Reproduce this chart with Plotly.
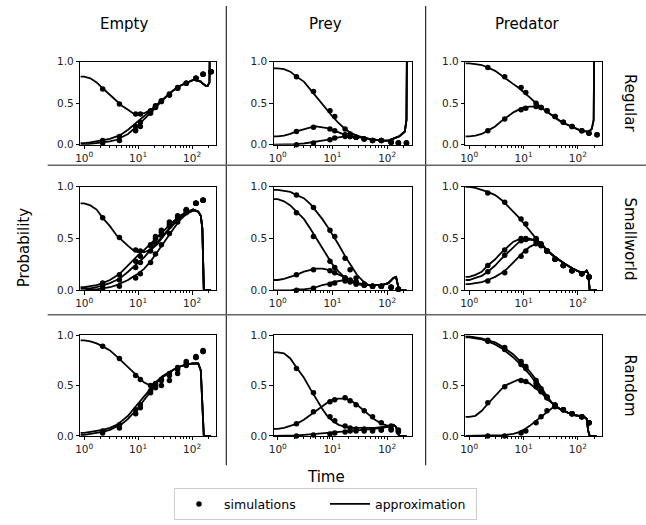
import plotly.graph_objects as go

W, H = 646, 525

# ---------------- data ----------------
COLUMNS = ["Empty", "Prey", "Predator"]
ROWS = ["Regular", "Smallworld", "Random"]
X_TICKS = [1, 10, 100]
X_TICK_TEXT = ["10<sup>0</sup>", "10<sup>1</sup>", "10<sup>2</sup>"]
Y_TICKS = [0, 0.5, 1.0]
Y_TICK_TEXT = ["0.0", "0.5", "1.0"]

T_LINE = [0.85, 1, 1.3, 1.7, 2.2, 3, 4, 5, 6.5, 8, 10, 13, 17, 22, 28, 36, 46, 60,
          80, 105, 130, 145, 155, 165, 180, 195, 210, 225, 250]
T_SIM = [2.2, 4.5, 9, 11, 17, 21, 27, 38, 54, 78, 118, 160, 225]

# Regular
REG_EMPTY_LINES = [
    [0.82, 0.82, 0.80, 0.75, 0.68, 0.60, 0.52, 0.47, 0.42, 0.38, 0.37, 0.38, 0.42, 0.47, 0.54,
     0.60, 0.66, 0.71, 0.75, 0.78, 0.77, 0.76, 0.74, 0.73, 0.71, 0.71, 0.75, 3, None],
    [0.02, 0.02, 0.03, 0.04, 0.05, 0.07, 0.10, 0.13, 0.18, 0.23, 0.28, 0.34, 0.41, 0.48, 0.54,
     0.60, 0.66, 0.71, 0.75, 0.78, 0.77, 0.76, 0.74, 0.73, 0.71, 0.71, 0.75, 3, None],
    [0.00, 0.00, 0.01, 0.02, 0.03, 0.04, 0.06, 0.09, 0.13, 0.18, 0.23, 0.31, 0.39, 0.46, 0.53,
     0.60, 0.66, 0.71, 0.75, 0.78, 0.77, 0.76, 0.74, 0.73, 0.71, 0.71, 0.75, 3, None],
]
REG_EMPTY_SIMS = [
    [0.67, 0.49, 0.37, 0.37, 0.41, 0.47, 0.53, 0.61, 0.69, 0.74, 0.80, 0.85, 0.88],
    [0.05, 0.10, 0.22, 0.27, 0.40, 0.46, 0.52, 0.60, 0.68, 0.74, 0.80, 0.85, 0.88],
    [0.02, 0.05, 0.17, 0.22, 0.38, 0.45, 0.52, 0.60, 0.68, 0.74, 0.80, 0.85, 0.88],
]
REG_PREY_LINES = [
    [0.92, 0.92, 0.91, 0.88, 0.82, 0.76, 0.66, 0.58, 0.49, 0.42, 0.34, 0.26, 0.19, 0.14, 0.11,
     0.09, 0.07, 0.06, 0.05, 0.05, 0.07, 0.08, 0.09, 0.10, 0.12, 0.14, 0.16, 0.30, 5],
    [0.10, 0.10, 0.11, 0.13, 0.16, 0.19, 0.21, 0.22, 0.21, 0.20, 0.18, 0.15, 0.12, 0.10, 0.09,
     0.09, 0.07, 0.06, 0.05, 0.05, 0.07, 0.08, 0.09, 0.10, 0.12, 0.14, 0.16, 0.30, 5],
    [0.0, 0.0, 0.0, 0.003, 0.007, 0.015, 0.025, 0.035, 0.05, 0.06, 0.075, 0.09, 0.10, 0.10, 0.09,
     0.09, 0.07, 0.06, 0.05, 0.05, 0.07, 0.08, 0.09, 0.10, 0.12, 0.14, 0.16, 0.30, 5],
]
REG_PREY_SIMS = [
    [0.82, 0.64, 0.41, 0.34, 0.19, 0.13, 0.09, 0.07, 0.05, 0.05, 0.03, 0.02, 0.02],
    [0.16, 0.21, 0.19, 0.17, 0.12, 0.10, 0.09, 0.07, 0.05, 0.05, 0.03, 0.02, 0.02],
    [0.00, 0.02, 0.06, 0.08, 0.10, 0.10, 0.09, 0.07, 0.05, 0.05, 0.03, 0.02, 0.02],
]
REG_PRED_LINES = [
    [0.98, 0.98, 0.97, 0.96, 0.93, 0.89, 0.83, 0.78, 0.73, 0.69, 0.64, 0.57, 0.50, 0.44,
     0.39, 0.34, 0.29, 0.25, 0.21, 0.18, 0.16, 0.16, 0.16, 0.17, 0.19, 0.30, 3, None, None],
    [0.10, 0.10, 0.11, 0.13, 0.17, 0.22, 0.29, 0.34, 0.39, 0.42, 0.45, 0.46, 0.46, 0.44,
     0.39, 0.34, 0.29, 0.25, 0.21, 0.18, 0.16, 0.16, 0.16, 0.17, 0.19, 0.30, 3, None, None],
]
REG_PRED_SIMS = [
    [0.93, 0.82, 0.69, 0.63, 0.50, 0.45, 0.41, 0.34, 0.27, 0.22, 0.17, 0.14, 0.12],
    [0.17, 0.31, 0.42, 0.44, 0.46, 0.45, 0.41, 0.34, 0.27, 0.22, 0.17, 0.14, 0.12],
]

# Smallworld
SW_EMPTY_LINES = [
    [0.84, 0.84, 0.82, 0.78, 0.70, 0.62, 0.53, 0.48, 0.43, 0.39, 0.37, 0.37, 0.39, 0.44, 0.51,
     0.58, 0.64, 0.70, 0.75, 0.78, 0.76, 0.72, 0.60, 0.0, 0.0, 0.0, 0.0, 0.0, None],
    [0.03, 0.03, 0.04, 0.05, 0.07, 0.10, 0.14, 0.18, 0.24, 0.29, 0.34, 0.39, 0.45, 0.51, 0.56,
     0.62, 0.67, 0.72, 0.76, 0.78, 0.76, 0.72, 0.60, 0.0, 0.0, 0.0, 0.0, 0.0, None],
    [0.02, 0.02, 0.02, 0.03, 0.05, 0.07, 0.10, 0.13, 0.18, 0.22, 0.27, 0.32, 0.39, 0.46, 0.52,
     0.59, 0.65, 0.71, 0.75, 0.78, 0.76, 0.72, 0.60, 0.0, 0.0, 0.0, 0.0, 0.0, None],
    [0.00, 0.00, 0.01, 0.01, 0.02, 0.03, 0.05, 0.07, 0.10, 0.13, 0.16, 0.21, 0.28, 0.36, 0.44,
     0.53, 0.60, 0.68, 0.74, 0.77, 0.76, 0.72, 0.60, 0.0, 0.0, 0.0, 0.0, 0.0, None],
]
SW_EMPTY_SIMS = [
    [0.70, 0.51, 0.39, 0.38, 0.44, 0.52, 0.58, 0.66, 0.72, 0.78, 0.84, 0.87, None],
    [0.07, 0.15, 0.28, 0.33, 0.43, 0.50, 0.56, 0.64, 0.70, 0.77, 0.84, 0.87, None],
    [0.05, 0.10, 0.22, 0.27, 0.38, 0.46, 0.53, 0.62, 0.70, 0.77, 0.84, 0.87, None],
    [0.02, 0.04, 0.12, 0.16, 0.27, 0.35, 0.44, 0.55, 0.66, 0.75, 0.84, 0.87, None],
]
SW_PREY_LINES = [
    [0.97, 0.97, 0.96, 0.95, 0.92, 0.89, 0.83, 0.77, 0.69, 0.62, 0.54, 0.44, 0.33, 0.23, 0.15, 0.09,
     0.05, 0.05, 0.05, 0.07, 0.12, 0.13, 0.06, 0.0, 0.0, 0.0, 0.0, 0.0, None],
    [0.88, 0.88, 0.86, 0.82, 0.76, 0.69, 0.59, 0.51, 0.41, 0.33, 0.25, 0.18, 0.12, 0.08, 0.06, 0.05,
     0.05, 0.05, 0.05, 0.07, 0.12, 0.13, 0.06, 0.0, 0.0, 0.0, 0.0, 0.0, None],
    [0.10, 0.10, 0.11, 0.13, 0.15, 0.18, 0.20, 0.21, 0.21, 0.20, 0.18, 0.15, 0.12, 0.09, 0.07, 0.06,
     0.05, 0.05, 0.05, 0.07, 0.12, 0.13, 0.06, 0.0, 0.0, 0.0, 0.0, 0.0, None],
    [0.0, 0.0, 0.0, 0.0, 0.01, 0.01, 0.02, 0.03, 0.05, 0.06, 0.08, 0.09, 0.10, 0.09, 0.07, 0.06,
     0.05, 0.05, 0.05, 0.07, 0.12, 0.13, 0.06, 0.0, 0.0, 0.0, 0.0, 0.0, None],
]
SW_PREY_SIMS = [
    [0.92, 0.80, 0.58, 0.52, 0.31, 0.20, 0.12, 0.06, 0.04, 0.04, 0.03, 0.01, None],
    [0.75, 0.52, 0.28, 0.22, 0.12, 0.08, 0.06, 0.05, 0.04, 0.04, 0.03, 0.01, None],
    [0.15, 0.20, 0.19, 0.17, 0.12, 0.10, 0.08, 0.05, 0.04, 0.04, 0.03, 0.01, None],
    [0.00, 0.02, 0.06, 0.07, 0.09, 0.09, 0.08, 0.06, 0.04, 0.04, 0.03, 0.01, None],
]
SW_PRED_LINES = [
    [1.0, 1.0, 0.99, 0.97, 0.95, 0.92, 0.87, 0.82, 0.76, 0.71, 0.65, 0.57, 0.50, 0.44,
     0.38, 0.33, 0.29, 0.25, 0.21, 0.18, 0.17, 0.19, 0.16, 0.0, 0.0, 0.0, 0.0, 0.0, None],
    [0.13, 0.13, 0.15, 0.18, 0.24, 0.30, 0.37, 0.42, 0.47, 0.49, 0.50, 0.50, 0.48, 0.44,
     0.38, 0.33, 0.29, 0.25, 0.21, 0.18, 0.17, 0.19, 0.16, 0.0, 0.0, 0.0, 0.0, 0.0, None],
    [0.10, 0.10, 0.12, 0.14, 0.18, 0.24, 0.31, 0.36, 0.42, 0.46, 0.48, 0.49, 0.48, 0.44,
     0.38, 0.33, 0.29, 0.25, 0.21, 0.18, 0.17, 0.19, 0.16, 0.0, 0.0, 0.0, 0.0, 0.0, None],
    [0.06, 0.06, 0.07, 0.08, 0.10, 0.13, 0.17, 0.21, 0.27, 0.32, 0.37, 0.42, 0.45, 0.43,
     0.38, 0.33, 0.29, 0.25, 0.21, 0.18, 0.17, 0.19, 0.16, 0.0, 0.0, 0.0, 0.0, 0.0, None],
]
SW_PRED_SIMS = [
    [0.94, 0.85, 0.69, 0.64, 0.50, 0.44, 0.38, 0.30, 0.24, 0.19, 0.16, 0.13, None],
    [0.24, 0.39, 0.50, 0.50, 0.49, 0.45, 0.38, 0.30, 0.24, 0.19, 0.16, 0.13, None],
    [0.18, 0.34, 0.48, 0.49, 0.48, 0.44, 0.38, 0.30, 0.24, 0.19, 0.16, 0.13, None],
    [0.09, 0.17, 0.33, 0.38, 0.45, 0.43, 0.38, 0.30, 0.24, 0.19, 0.16, 0.13, None],
]

# Random
RND_EMPTY_LINES = [
    [0.95, 0.95, 0.94, 0.92, 0.89, 0.85, 0.79, 0.74, 0.68, 0.63, 0.58, 0.53, 0.50,
     0.54, 0.59, 0.63, 0.66, 0.69, 0.71, 0.72, 0.72, 0.65, 0.30, 0.0, 0.0, 0.0, 0.0, 0.0, None],
    [0.03, 0.03, 0.04, 0.05, 0.06, 0.08, 0.11, 0.15, 0.20, 0.26, 0.32, 0.40, 0.47,
     0.54, 0.59, 0.63, 0.66, 0.69, 0.71, 0.72, 0.72, 0.65, 0.30, 0.0, 0.0, 0.0, 0.0, 0.0, None],
    [0.01, 0.01, 0.02, 0.03, 0.04, 0.06, 0.09, 0.12, 0.17, 0.22, 0.28, 0.36, 0.44,
     0.53, 0.58, 0.62, 0.66, 0.69, 0.71, 0.72, 0.72, 0.65, 0.30, 0.0, 0.0, 0.0, 0.0, 0.0, None],
]
RND_EMPTY_SIMS = [
    [0.89, 0.77, 0.60, 0.56, 0.50, 0.52, 0.56, 0.62, 0.68, 0.74, 0.79, 0.85, None],
    [0.05, 0.11, 0.26, 0.31, 0.45, 0.48, 0.50, 0.55, 0.62, 0.70, 0.78, 0.84, None],
    [0.03, 0.08, 0.22, 0.28, 0.43, 0.50, 0.55, 0.60, 0.66, 0.72, 0.78, 0.84, None],
]
RND_PREY_LINES = [
    [0.83, 0.83, 0.82, 0.77, 0.68, 0.58, 0.46, 0.37, 0.27, 0.20, 0.15, 0.11, 0.09, 0.08, 0.08, 0.08,
     0.08, 0.08, 0.09, 0.10, 0.11, 0.09, 0.03, 0.0, 0.0, 0.0, 0.0, 0.0, None],
    [0.07, 0.07, 0.08, 0.10, 0.12, 0.16, 0.21, 0.25, 0.30, 0.33, 0.36, 0.37, 0.37, 0.35, 0.31, 0.26,
     0.21, 0.16, 0.12, 0.10, 0.11, 0.09, 0.03, 0.0, 0.0, 0.0, 0.0, 0.0, None],
    [0.0, 0.0, 0.0, 0.0, 0.005, 0.01, 0.015, 0.02, 0.025, 0.03, 0.035, 0.04, 0.045, 0.05, 0.055, 0.06,
     0.065, 0.07, 0.08, 0.09, 0.11, 0.09, 0.03, 0.0, 0.0, 0.0, 0.0, 0.0, None],
]
RND_PREY_SIMS = [
    [0.67, 0.43, 0.19, 0.15, 0.10, 0.08, 0.07, 0.07, 0.06, 0.06, 0.06, 0.04, None],
    [0.12, 0.24, 0.34, 0.36, 0.38, 0.35, 0.31, 0.25, 0.19, 0.13, 0.10, 0.06, None],
    [0.00, 0.01, 0.02, 0.03, 0.04, 0.05, 0.05, 0.05, 0.05, 0.06, 0.07, 0.05, None],
]
RND_PRED_LINES = [
    [0.98, 0.98, 0.97, 0.96, 0.94, 0.91, 0.87, 0.83, 0.78, 0.73, 0.68, 0.61, 0.53, 0.45, 0.37,
     0.31, 0.27, 0.24, 0.21, 0.20, 0.19, 0.17, 0.05, 0.0, 0.0, 0.0, 0.0, 0.0, None],
    [0.99, 0.99, 0.98, 0.97, 0.95, 0.93, 0.89, 0.85, 0.81, 0.76, 0.71, 0.64, 0.56, 0.47, 0.38,
     0.31, 0.27, 0.24, 0.21, 0.20, 0.19, 0.17, 0.05, 0.0, 0.0, 0.0, 0.0, 0.0, None],
    [0.19, 0.19, 0.20, 0.25, 0.32, 0.40, 0.47, 0.51, 0.54, 0.56, 0.55, 0.52, 0.47, 0.42, 0.36,
     0.31, 0.27, 0.24, 0.21, 0.20, 0.19, 0.17, 0.05, 0.0, 0.0, 0.0, 0.0, 0.0, None],
    [0.0, 0.0, 0.0, 0.0, 0.0, 0.003, 0.007, 0.012, 0.02, 0.035, 0.06, 0.10, 0.15, 0.20, 0.25,
     0.29, 0.27, 0.24, 0.21, 0.20, 0.19, 0.17, 0.05, 0.0, 0.0, 0.0, 0.0, 0.0, None],
]
RND_PRED_SIMS = [
    [0.94, 0.86, 0.71, 0.67, 0.52, 0.45, 0.38, 0.30, 0.26, 0.22, 0.19, 0.13, None],
    [0.95, 0.88, 0.74, 0.69, 0.55, 0.47, 0.39, 0.31, 0.26, 0.22, 0.19, 0.13, None],
    [0.33, 0.49, 0.55, 0.54, 0.49, 0.44, 0.38, 0.30, 0.26, 0.22, 0.19, 0.13, None],
    [0.00, 0.00, 0.03, 0.05, 0.13, 0.19, 0.25, 0.29, 0.26, 0.22, 0.19, 0.13, None],
]

GRID = [
    [(REG_EMPTY_LINES, REG_EMPTY_SIMS), (REG_PREY_LINES, REG_PREY_SIMS), (REG_PRED_LINES, REG_PRED_SIMS)],
    [(SW_EMPTY_LINES, SW_EMPTY_SIMS), (SW_PREY_LINES, SW_PREY_SIMS), (SW_PRED_LINES, SW_PRED_SIMS)],
    [(RND_EMPTY_LINES, RND_EMPTY_SIMS), (RND_PREY_LINES, RND_PREY_SIMS), (RND_PRED_LINES, RND_PRED_SIMS)],
]

# ---------------- layout geometry (pixels) ----------------
COL_PX = [(76, 213), (271, 410), (464, 602)]
ROW_PX = [(57, 142), (185, 291), (337, 440)]
SEP_Y = [163, 316]
SEP_X = [223, 424]

FONT = "DejaVu Sans"


def xdom(a, b):
    return [a / W, b / W]


def ydom(a, b):
    return [1 - b / H, 1 - a / H]


fig = go.Figure()
layout = {}
minor_vals = [2, 3, 4, 5, 6, 7, 8, 9, 20, 30, 40, 50, 60, 70, 80, 90, 200]
first_line = True
first_sim = True
for r in range(3):
    for c in range(3):
        k = r * 3 + c + 1
        sfx = "" if k == 1 else str(k)
        lines, sims = GRID[r][c]
        for ln in lines:
            fig.add_trace(go.Scatter(
                x=T_LINE, y=ln, mode="lines", name="approximation",
                line=dict(color="black", width=1.8),
                xaxis="x" + sfx, yaxis="y" + sfx,
                showlegend=first_line, legendrank=2, legendgroup="approx",
                hoverinfo="skip"))
            first_line = False
        for sm in sims:
            fig.add_trace(go.Scatter(
                x=T_SIM, y=sm, mode="markers", name="simulations",
                marker=dict(color="black", size=5.5),
                xaxis="x" + sfx, yaxis="y" + sfx, cliponaxis=False,
                showlegend=first_sim, legendrank=1, legendgroup="sims",
                hoverinfo="skip"))
            first_sim = False
        layout["xaxis" + sfx] = dict(
            domain=xdom(*COL_PX[c]), anchor="y" + sfx, type="log",
            range=[-0.07, 2.45], tickvals=X_TICKS, ticktext=X_TICK_TEXT,
            ticks="outside", ticklen=3.5, tickwidth=0.8, tickcolor="black",
            showline=True, mirror=True, linecolor="black", linewidth=1,
            showgrid=False, zeroline=False,
            tickfont=dict(family=FONT, size=10.5, color="#222"),
            minor=dict(tickvals=minor_vals, ticks="outside", ticklen=2,
                       tickwidth=0.6, tickcolor="black", showgrid=False))
        layout["yaxis" + sfx] = dict(
            domain=ydom(*ROW_PX[r]), anchor="x" + sfx, range=[0, 1],
            tickvals=Y_TICKS, ticktext=Y_TICK_TEXT,
            ticks="outside", ticklen=3.5, tickwidth=0.8, tickcolor="black",
            showline=True, mirror=True, linecolor="black", linewidth=1,
            showgrid=False, zeroline=False,
            tickfont=dict(family=FONT, size=10.5, color="#222"))

TXT = dict(family=FONT, size=15, color="black")
annotations = []
for name, xc in zip(COLUMNS, [120, 323, 527]):
    annotations.append(dict(text=name, x=xc / W, y=1 - 18 / H, xref="paper", yref="paper",
                            xanchor="center", yanchor="middle", showarrow=False, font=TXT))
for name, r in zip(ROWS, range(3)):
    yc = (ROW_PX[r][0] + ROW_PX[r][1]) / 2
    annotations.append(dict(text=name, x=630 / W, y=1 - yc / H, xref="paper", yref="paper",
                            xanchor="center", yanchor="middle", showarrow=False,
                            textangle=90, font=TXT))
annotations.append(dict(text="Probability", x=20 / W, y=1 - 247 / H, xref="paper", yref="paper",
                        xanchor="center", yanchor="middle", showarrow=False,
                        textangle=-90, font=TXT))
annotations.append(dict(text="Time", x=323 / W, y=1 - 482 / H, xref="paper", yref="paper",
                        xanchor="center", yanchor="middle", showarrow=False, font=TXT))

shapes = []
for xv in SEP_X:
    shapes.append(dict(type="line", xref="paper", yref="paper", x0=xv / W, x1=xv / W,
                       y0=1 - 470 / H, y1=1, line=dict(color="black", width=1)))
for yv in SEP_Y:
    shapes.append(dict(type="line", xref="paper", yref="paper", x0=43 / W, x1=1,
                       y0=1 - yv / H, y1=1 - yv / H, line=dict(color="#666", width=1.5)))

fig.update_layout(
    width=W, height=H, margin=dict(l=0, r=0, t=0, b=0),
    paper_bgcolor="white", plot_bgcolor="white",
    annotations=annotations, shapes=shapes,
    legend=dict(orientation="h", x=0.5, xanchor="center", y=1 - 510 / H, yanchor="middle",
                bordercolor="#cccccc", borderwidth=1, bgcolor="white",
                font=dict(family=FONT, size=12.5, color="black"), itemwidth=40,
                entrywidth=96, entrywidthmode="pixels"),
    **layout)

fig.write_html("out.html", config={"displayModeBar": False},
               post_script="document.body.style.margin='0px';document.body.style.overflow='hidden';")
